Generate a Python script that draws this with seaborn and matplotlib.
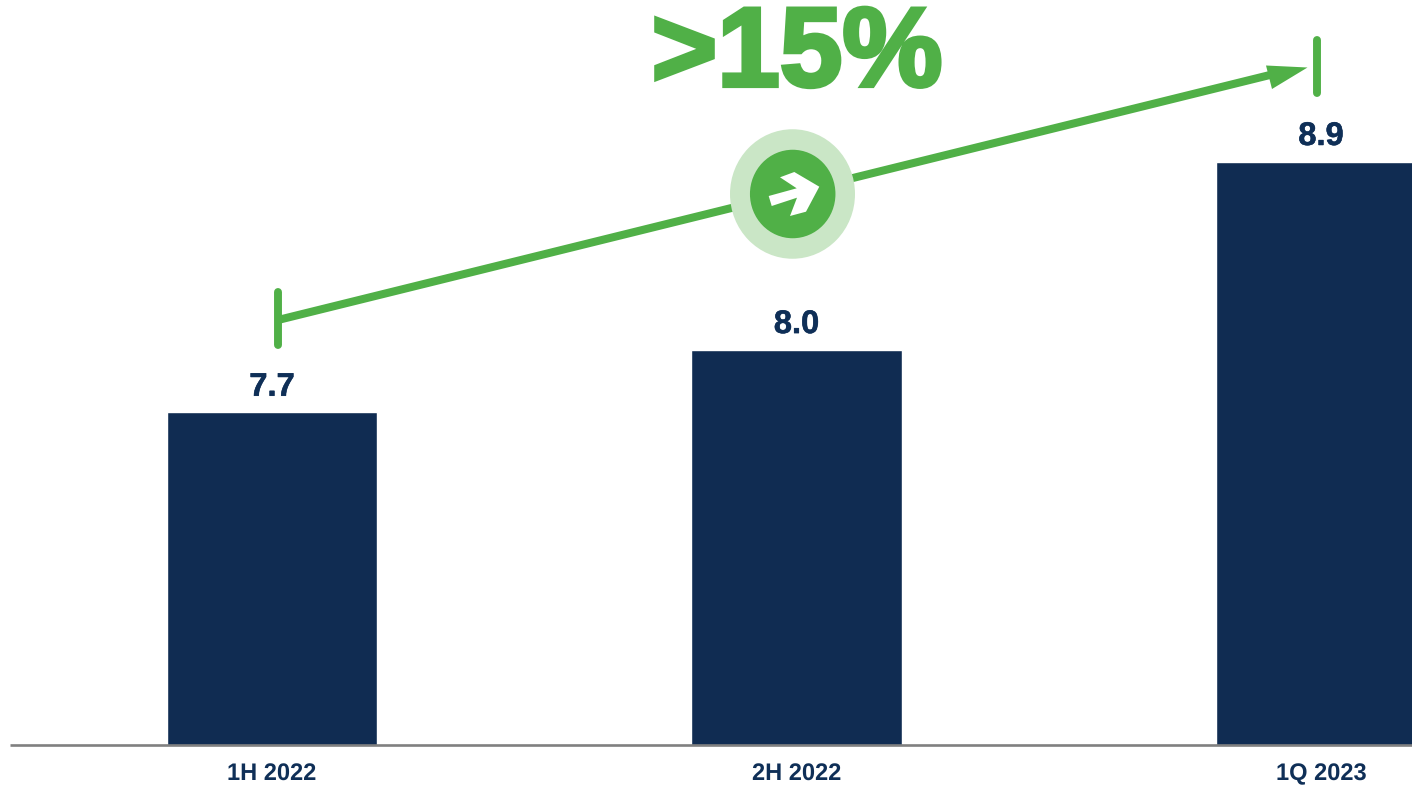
import matplotlib
matplotlib.use('Agg')
import matplotlib.pyplot as plt
import matplotlib.patheffects as pe
import pandas as pd
import seaborn as sns
from matplotlib.patches import Ellipse, Polygon

# Chart data
periods = ['1H 2022', '2H 2022', '1Q 2023']
values = [7.7, 8.0, 8.9]
growth_label = '>15%'

navy = '#102C52'
label_navy = '#0F2F57'
green = '#50B047'
pale_green = '#CAE6C6'

W, H = 1412, 785
sns.set_theme(style='white')
plt.rcParams['font.family'] = ['Liberation Sans', 'DejaVu Sans']
plt.rcParams['text.hinting'] = 'no_hinting'

fig = plt.figure(figsize=(W / 100, H / 100), dpi=100)
ax = fig.add_axes([0, 40 / H, 1, 745 / H])

df = pd.DataFrame({'period': periods, 'value': values})
sns.barplot(data=df, x='period', y='value', color=navy, width=0.401, saturation=1, ax=ax)

ax.set_xlim(-0.5186, 2.1735)
ax.set_ylim(6.108, 9.673)
ax.set_xlabel('')
ax.set_ylabel('')
ax.set_yticks([])
ax.tick_params(axis='x', length=0, pad=13)
for lab in ax.get_xticklabels():
    lab.set_fontsize(17)
    lab.set_fontweight('bold')
    lab.set_color(label_navy)
for side in ['top', 'left', 'right', 'bottom']:
    ax.spines[side].set_visible(False)

# Value labels above the bars
for c in ax.containers:
    ax.bar_label(c, fmt='%.1f', padding=7, fontsize=23.5, fontweight='bold', color=label_navy,
                 path_effects=[pe.withStroke(linewidth=0.4, foreground=label_navy)])

# Annotation layer in pixel coordinates of the picture
ov = fig.add_axes([0, 0, 1, 1], facecolor='none')
ov.set_xlim(0, W)
ov.set_ylim(H, 0)
ov.axis('off')

ov.plot([10, W], [745, 745], color='#808080', lw=1.9, solid_capstyle='butt')

# Growth arrow with end stops
ov.plot([278, 1278], [320, 73], color=green, lw=5.8, solid_capstyle='butt', zorder=2)
ov.add_patch(Polygon([[1307.5, 67.5], [1266, 65.5], [1272, 89]], closed=True, color=green, lw=0, zorder=2))
ov.plot([277.7, 277.7], [292, 345], color=green, lw=5.7, solid_capstyle='round')
ov.plot([1317, 1317], [40, 93], color=green, lw=5.7, solid_capstyle='round')

# Round badge on the arrow
ov.add_patch(Ellipse((792.5, 194), 125, 129.5, color=pale_green, lw=0, zorder=3))
ov.add_patch(Ellipse((792.7, 194), 85.5, 88.5, color=green, lw=0, zorder=4))
ov.add_patch(Polygon([[768.7, 196], [771.7, 206], [797, 197.7], [790, 216], [806, 211.7],
                      [819.3, 186.7], [794.3, 172], [780, 177.3], [796.7, 188.3]],
                     closed=True, color='white', lw=0, zorder=5))

ov.text(797, 86, growth_label, color=green, fontsize=81, fontweight='bold', ha='center', va='baseline',
        path_effects=[pe.withStroke(linewidth=3, foreground=green, joinstyle='miter')])

fig.savefig('out.png', dpi=100)
